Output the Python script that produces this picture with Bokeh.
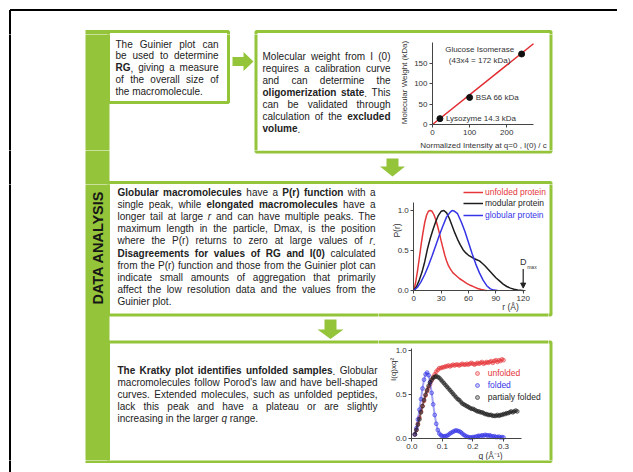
import math
from bokeh.plotting import figure
from bokeh.layouts import row, column
from bokeh.models import (Range1d, FixedTicker, NumeralTickFormatter, Label, Legend,
                          LegendItem, Arrow, NormalHead, ColumnDataSource)
from bokeh.core.properties import value
from bokeh.embed import file_html
from bokeh.resources import INLINE

# ------------------------------------------------------------------ data
section_title = "DATA ANALYSIS"

text_guinier = [
    [("The Guinier plot can", "n")],
    [("be used to determine", "n")],
    [("RG", "b"), (", giving a measure", "n")],
    [("of the overall size of", "n")],
    [("the macromolecule.", "n")],
]
text_mw = [
    [("Molecular weight from I (0)", "n")],
    [("requires a calibration curve", "n")],
    [("and can determine the", "n")],
    [("oligomerization state", "b"), (". This", "n")],
    [("can be validated through", "n")],
    [("calculation of the ", "n"), ("excluded", "b")],
    [("volume", "b"), (".", "n")],
]
text_pr = [
    [("Globular macromolecules", "b"), (" have a ", "n"), ("P(r) function", "b"), (" with a", "n")],
    [("single peak, while ", "n"), ("elongated macromolecules", "b"), (" have a", "n")],
    [("longer tail at large ", "n"), ("r", "i"), (" and can have multiple peaks. The", "n")],
    [("maximum length in the particle, Dmax, is the position", "n")],
    [("where the P(r) returns to zero at large values of ", "n"), ("r", "i"), (".", "n")],
    [("Disagreements for values of RG and I(0)", "b"), (" calculated", "n")],
    [("from the P(r) function and those from the Guinier plot can", "n")],
    [("indicate small amounts of aggregation that primarily", "n")],
    [("affect the low resolution data and the values from the", "n")],
    [("Guinier plot.", "n")],
]
text_kratky = [
    [("The Kratky plot identifies unfolded samples", "b"), (". Globular", "n")],
    [("macromolecules follow Porod's law and have bell-shaped", "n")],
    [("curves. Extended molecules, such as unfolded peptides,", "n")],
    [("lack this peak and have a plateau or are slightly", "n")],
    [("increasing in the larger ", "n"), ("q", "i"), (" range.", "n")],
]

# calibration curve (molecular weight vs normalized I(0))
calib_names = ["Lysozyme 14.3 kDa", "BSA 66 kDa", "Glucose Isomerase"]
calib_note = "(43x4 = 172 kDa)"
calib_intensity = [20, 100, 240]
calib_mw = [14.3, 66, 172]
fit_intensity = [0, 272]
fit_mw = [0, 197]
calib_xticks = [0, 100, 200]
calib_yticks = [0, 50, 100, 150]
calib_xlabel = "Normalized Intensity at q=0 , I(0) / c"
calib_ylabel = "Molecular Weight (kDa)"

# P(r) functions
pr_labels = ["unfolded protein", "modular protein", "globular protein"]
pr_r_unfolded = [0, 2, 4, 6, 8, 10, 12, 14, 16, 18, 20, 22, 24, 26, 28, 30, 32, 34, 36, 38,
                 40, 43, 46, 50, 54, 58, 62, 66, 70, 74, 78, 80]
pr_unfolded = [0, .10, .24, .40, .57, .72, .85, .94, .99, 1.0, .99, .95, .89, .81, .72, .62,
               .53, .44, .37, .31, .27, .22, .19, .15, .12, .09, .065, .045, .025, .012, .003, 0]
pr_r_modular = [0, 3, 6, 9, 12, 15, 18, 21, 24, 27, 30, 33, 36, 39, 42, 45, 48, 51, 54, 57,
                60, 63, 66, 69, 72, 75, 78, 82, 86, 90, 94, 98, 102, 106, 110, 114, 118, 120]
pr_modular = [0, .05, .13, .23, .36, .52, .65, .76, .86, .94, .99, 1.0, .97, .90, .81, .72,
              .64, .57, .51, .47, .44, .42, .40, .385, .37, .34, .31, .26, .21, .16, .12, .08,
              .05, .03, .015, .007, .002, 0]
pr_r_globular = [0, 4, 8, 12, 16, 20, 24, 28, 32, 36, 40, 42, 44, 48, 52, 56, 60, 64, 68, 72,
                 76, 80, 84, 88, 92]
pr_globular = [0, .04, .11, .20, .31, .43, .56, .69, .81, .92, .98, 1.0, .995, .96, .86, .74,
               .60, .46, .33, .22, .13, .06, .02, .005, 0]
dmax = 120
pr_xticks = [0, 30, 60, 90, 120]
pr_yticks = [0, 0.5, 1.0]
pr_xlabel = "r (Å)"
pr_ylabel = "P(r)"

# Kratky plot
kr_labels = ["unfolded", "folded", "partialy folded"]
kr_q = [0.010, 0.015, 0.020, 0.025, 0.030, 0.035, 0.040, 0.045, 0.050, 0.055, 0.060, 0.065,
        0.070, 0.075, 0.080, 0.085, 0.090, 0.095, 0.100, 0.105, 0.110, 0.115, 0.120, 0.125,
        0.130, 0.135, 0.140, 0.145, 0.150, 0.155, 0.160, 0.165, 0.170, 0.175, 0.180, 0.185,
        0.190, 0.195, 0.200, 0.205, 0.210, 0.215, 0.220, 0.225, 0.230, 0.235, 0.240, 0.245,
        0.250, 0.255, 0.260, 0.265, 0.270, 0.275, 0.280, 0.285, 0.290, 0.295, 0.300, 0.305,
        0.310, 0.315, 0.320, 0.325, 0.330, 0.335, 0.340, 0.345]
kr_unfolded = [.05, .10, .17, .24, .31, .37, .43, .49, .54, .58, .62, .66, .70, .73, .76, .78,
               .80, .80, .81,
               .81, .82, .82, .83, .82, .83, .84, .83, .84, .84, .83, .84, .85, .84, .84, .85,
               .84, .85, .86, .85,
               .84, .85, .86, .85, .86, .87, .85, .86, .87, .86, .87, .88, .86, .88, .89, .87,
               .89, .88, .90, .89]
kr_folded = [.05, .12, .22, .33, .45, .57, .67, .73, .75, .72, .64, .52, .39, .27, .17, .10,
             .06, .04, .03,
             .03, .03, .035, .045, .06, .07, .08, .09, .095, .09, .085, .075, .06, .045, .035,
             .025, .02, .015, .015, .02,
             .02, .025, .03, .035, .03, .04, .035, .045, .04, .035, .04, .03, .025, .03, .02,
             .02, .025, .015, .02, .015]
kr_partial = [.05, .10, .16, .22, .30, .37, .44, .50, .55, .60, .64, .67, .69, .70, .71, .70,
              .69, .67, .65,
              .63, .61, .59, .57, .55, .53, .51, .49, .47, .45, .44, .42, .40, .39, .38, .37,
              .36, .35, .34, .34,
              .33, .32, .31, .31, .30, .30, .29, .28, .28, .27, .27, .27, .26, .26, .26, .27,
              .26, .27, .27, .28,
              .28, .29, .29, .30, .31, .30, .31, .32, .31]
kr_xticks = [0, 0.1, 0.2, 0.3]
kr_yticks = [0, 0.5, 1.0]
kr_xlabel = "q (Å⁻¹)"
kr_ylabel = "I(q)xq²"

# ------------------------------------------------------------------ styles
FONT = "Liberation Sans"
GREEN = "#93C43A"
TXT = "#222222"
AX = "#333333"
RED = "#E5363A"
BLUE = "#3535E6"
BLACK = "#1E1E1E"
PAGE_W = 617
PAGE_H = 472

# Arial / Liberation Sans advance widths (per 1000 em)
_LOW_R = [556, 556, 500, 556, 556, 278, 556, 556, 222, 222, 500, 222, 833, 556, 556, 556, 556,
          333, 500, 278, 556, 500, 722, 500, 500, 500]
_UP_R = [667, 667, 722, 722, 667, 611, 778, 722, 278, 500, 667, 556, 833, 722, 778, 667, 778,
         722, 667, 611, 722, 667, 944, 667, 667, 611]
_LOW_B = [556, 611, 556, 611, 556, 333, 611, 611, 278, 278, 556, 278, 889, 611, 611, 611, 611,
          389, 556, 333, 611, 556, 778, 556, 556, 500]
_UP_B = [722, 722, 722, 722, 667, 611, 778, 722, 278, 556, 722, 611, 833, 722, 778, 667, 778,
         722, 667, 611, 722, 667, 944, 667, 667, 611]
_PUNCT_R = {" ": 278, ",": 278, ".": 278, "(": 333, ")": 333, "-": 333, "'": 191, "/": 278,
            ":": 278, "=": 584}
_PUNCT_B = {" ": 278, ",": 278, ".": 278, "(": 333, ")": 333, "-": 333, "'": 238, "/": 278,
            ":": 333, "=": 584}


def char_w(c, st):
    bold = st == "b"
    if "a" <= c <= "z":
        return (_LOW_B if bold else _LOW_R)[ord(c) - 97]
    if "A" <= c <= "Z":
        return (_UP_B if bold else _UP_R)[ord(c) - 65]
    if "0" <= c <= "9":
        return 556
    return (_PUNCT_B if bold else _PUNCT_R).get(c, 556)


def text_w(s, st, size):
    return sum(char_w(c, st) for c in s) * size / 1000.0


def layout_paragraph(lines, x0, x1, y0, dy, size):
    out = []
    for i, line in enumerate(lines):
        chars = [(c, st) for t, st in line for c in t]
        words, cur = [], []
        for c, st in chars:
            if c == " ":
                if cur:
                    words.append(cur)
                    cur = []
            else:
                cur.append((c, st))
        if cur:
            words.append(cur)
        wruns = []
        for w in words:
            rr = []
            for c, st in w:
                if rr and rr[-1][1] == st:
                    rr[-1][0] += c
                else:
                    rr.append([c, st])
            wruns.append(rr)
        widths = [sum(text_w(t, st, size) for t, st in rr) for rr in wruns]
        last = i == len(lines) - 1
        n = len(wruns)
        if not last and n > 1:
            gap = (x1 - x0 - sum(widths)) / (n - 1)
        else:
            gap = text_w(" ", "n", size)
        x = x0
        y = y0 + i * dy
        for rr, w in zip(wruns, widths):
            xx = x
            for t, st in rr:
                tw = text_w(t, st, size)
                out.append((xx, y, t, st, tw))
                xx += tw
            x += w + gap
    return out


RUNS = []
RUNS += layout_paragraph(text_guinier, 115, 218, 43.5, 11.8, 10)
RUNS += layout_paragraph(text_mw, 262, 390, 56, 12, 10)
RUNS += layout_paragraph(text_pr, 117, 375, 192, 12.1, 10)
RUNS += layout_paragraph(text_kratky, 117, 377, 370, 12, 10)


# ------------------------------------------------------------------ background tiles
def bg_tile(x0, x1, y0, y1):
    p = figure(width=x1 - x0, height=y1 - y0, x_range=Range1d(x0, x1),
               y_range=Range1d(y1, y0), toolbar_location=None, output_backend="svg",
               min_border=0, x_axis_location=None, y_axis_location=None,
               outline_line_color=None, background_fill_color="white",
               border_fill_color="white")
    p.grid.visible = False
    # outer black frame (only its top and left edges fall inside the window)
    p.segment(x0=[9.5, 9.5], y0=[9.5, 9.5], x1=[640, 9.5], y1=[9.5, 480],
              line_color="black", line_width=2)
    # green side bar
    p.quad(left=[85], right=[109], top=[29.5], bottom=[462.5], fill_color=GREEN,
           line_color=None)
    # boxes
    p.quad(left=[108, 255.5, 108, 108], right=[228, 550.5, 550.5, 550.5],
           top=[31, 31, 182, 341.5], bottom=[102, 151.5, 314.5, 461],
           fill_alpha=0, line_color=GREEN, line_width=3)
    # arrows
    p.patches(xs=[[232, 243, 243, 253, 243, 243, 232],
                  [386, 398, 398, 404.5, 392, 379.5, 386],
                  [324, 336, 336, 343, 330, 317, 324]],
              ys=[[56.5, 56.5, 51.5, 61, 70.5, 65.5, 65.5],
                  [158, 158, 166, 166, 176, 166, 166],
                  [319, 319, 329, 329, 338.5, 329, 329]],
              fill_color=GREEN, line_color=None)
    if x0 < 97.5 < x1 and y0 < 187 and y1 > 307:
        p.text(x=[97.5], y=[247], text=[section_title], angle=math.pi / 2,
               text_align="center", text_baseline="middle", text_font=value(FONT),
               text_font_size="14.5px", text_font_style="bold", text_color="#161616")
    for st, fstyle in (("n", "normal"), ("b", "bold"), ("i", "italic")):
        sel = [r for r in RUNS if r[3] == st and r[0] < x1 and r[0] + r[4] > x0
               and r[1] - 6 < y1 and r[1] + 6 > y0]
        if not sel:
            continue
        src = ColumnDataSource(dict(x=[r[0] for r in sel], y=[r[1] for r in sel],
                                    text=[r[2] for r in sel]))
        p.text(x="x", y="y", text="text", source=src, text_align="left",
               text_baseline="middle", text_font=value(FONT), text_font_size="10px",
               text_font_style=fstyle, text_color=TXT)
    return p


# ------------------------------------------------------------------ chart helpers
def span_range(lo, hi, v_a, p_a, v_b, p_b):
    k = (p_b - p_a) / (v_b - v_a)
    return Range1d(v_a + (lo - p_a) / k, v_a + (hi - p_a) / k)


def chart_tile(x0, x1, y0, y1, xcal, ycal):
    p = figure(width=x1 - x0, height=y1 - y0,
               x_range=span_range(x0, x1, *xcal), y_range=span_range(y1, y0, *ycal),
               toolbar_location=None, output_backend="svg", min_border=0,
               background_fill_color="white", border_fill_color="white",
               outline_line_color=None)
    p.grid.visible = False
    return p


def style_axes(p, xt, yt, xb, yb, xfmt=None, yfmt=None):
    p.xaxis.ticker = FixedTicker(ticks=xt, minor_ticks=[])
    p.yaxis.ticker = FixedTicker(ticks=yt, minor_ticks=[])
    p.xaxis.fixed_location = 0
    p.yaxis.fixed_location = 0
    p.xaxis.bounds = xb
    p.yaxis.bounds = yb
    if xfmt:
        p.xaxis.formatter = NumeralTickFormatter(format=xfmt)
    if yfmt:
        p.yaxis.formatter = NumeralTickFormatter(format=yfmt)
    for ax in (p.xaxis[0], p.yaxis[0]):
        ax.axis_line_color = "#444444"
        ax.axis_line_width = 1
        ax.major_tick_line_color = "#444444"
        ax.minor_tick_line_color = None
        ax.major_tick_out = 3
        ax.major_tick_in = 0
        ax.major_label_text_font = FONT
        ax.major_label_text_font_size = "8px"
        ax.major_label_text_color = AX
        ax.major_label_standoff = 2


def screen_label(p, x0, y1, px, py, text, size, angle=0.0, color=AX):
    p.add_layout(Label(x=px - x0, y=y1 - py, x_units="screen", y_units="screen", text=text,
                       angle=angle, text_align="center", text_baseline="middle",
                       text_font=FONT, text_font_size=size, text_color=color))


# ------------------------------------------------------------------ chart 1: calibration
C1 = (392, 548, 34, 150)
c1 = chart_tile(*C1, (0, 432, 272, 533), (0, 124, 200, 42))
style_axes(c1, calib_xticks, calib_yticks, (0, 272), (0, 200))
c1.line(fit_intensity, fit_mw, line_color="#E0282D", line_width=1.5)
c1.scatter(calib_intensity, calib_mw, marker="circle", size=6, fill_color="#111111",
           line_color="#111111")
c1.text(x=calib_intensity[:2], y=calib_mw[:2], text=calib_names[:2], x_offset=6,
        text_align="left", text_baseline="middle", text_font=value(FONT),
        text_font_size="8px", text_color=AX)
c1.text(x=[calib_intensity[2], calib_intensity[2]], y=[calib_mw[2], calib_mw[2]],
        text=[calib_names[2], calib_note], x_offset=-42, y_offset=[-4, 7],
        text_align="center", text_baseline="middle", text_font=value(FONT),
        text_font_size="8px", text_color=AX)
screen_label(c1, C1[0], C1[3], 404, 82, calib_ylabel, "8px", angle=math.pi / 2)
screen_label(c1, C1[0], C1[3], 483, 145, calib_xlabel, "8px")

# ------------------------------------------------------------------ chart 2: P(r)
C2 = (378, 548, 184, 312)
c2 = chart_tile(*C2, (0, 413.3, 120, 522.7), (0, 290, 1.0, 210))
style_axes(c2, pr_xticks, pr_yticks, (0, 123), (0, 1.1), yfmt="0.0")
r_un = c2.line(pr_r_unfolded, pr_unfolded, line_color=RED, line_width=1.5)
r_mo = c2.line(pr_r_modular, pr_modular, line_color=BLACK, line_width=1.5)
r_gl = c2.line(pr_r_globular, pr_globular, line_color=BLUE, line_width=1.5)
for rend, lab, col, loc in zip((r_un, r_mo, r_gl), pr_labels, (RED, BLACK, BLUE),
                               ((85, 115.3), (85, 103.7), (85, 92))):
    c2.add_layout(Legend(items=[LegendItem(label=lab, renderers=[rend])], location=loc,
                         label_text_color=col, label_text_font=FONT,
                         label_text_font_size="8.5px", glyph_width=20, glyph_height=10,
                         label_height=10, label_standoff=2, padding=0, margin=0, spacing=0,
                         border_line_color=None, background_fill_alpha=0))
screen_label(c2, C2[0], C2[3], 396.7, 230, pr_ylabel, "8.5px", angle=math.pi / 2)
screen_label(c2, C2[0], C2[3], 510, 306.5, pr_xlabel, "8.5px")
c2.add_layout(Label(x=dmax, y=0.355, text="D", text_align="center", text_baseline="middle",
                    text_font=FONT, text_font_size="9px", text_color=AX))
c2.add_layout(Label(x=dmax, y=0.29, x_offset=4, text="max", text_align="left",
                    text_baseline="middle", text_font=FONT, text_font_size="5px",
                    text_color=AX))
c2.add_layout(Arrow(end=NormalHead(size=5, fill_color="#222222", line_color="#222222"),
                    x_start=dmax, y_start=0.27, x_end=dmax, y_end=0.03,
                    line_color="#222222", line_width=1.2))

# ------------------------------------------------------------------ chart 3: Kratky
C3 = (378, 548, 344, 460)
c3 = chart_tile(*C3, (0, 411.3, 0.3, 503), (0, 438.3, 1.0, 350))
style_axes(c3, kr_xticks, kr_yticks, (0, 0.36), (0, 1.02), xfmt="0.0", yfmt="0.0")
kr_series = ((kr_unfolded, RED), (kr_folded, BLUE), (kr_partial, BLACK))
kr_rends = []
for vals, col in kr_series:
    qs = kr_q[:len(vals)]
    c3.line(qs, vals, line_color=col, line_width=2, line_alpha=0.45)
    kr_rends.append(c3.scatter(qs, vals, marker="circle", size=3.8, fill_color=col,
                               fill_alpha=0.3, line_color=col, line_alpha=0.85,
                               line_width=0.7))
for rend, lab, col, loc in zip(kr_rends, kr_labels, (RED, BLUE, BLACK),
                               ((93.7, 82.3), (93.7, 70), (93.7, 57.7))):
    c3.add_layout(Legend(items=[LegendItem(label=lab, renderers=[rend])], location=loc,
                         label_text_color=col, label_text_font=FONT,
                         label_text_font_size="8.5px", glyph_width=10, glyph_height=10,
                         label_height=10, label_standoff=6, padding=0, margin=0, spacing=0,
                         border_line_color=None, background_fill_alpha=0))
screen_label(c3, C3[0], C3[3], 392.7, 369, kr_ylabel, "8px", angle=math.pi / 2)
screen_label(c3, C3[0], C3[3], 490, 455, kr_xlabel, "8.5px")

# ------------------------------------------------------------------ page layout (tiles)
band0 = bg_tile(0, PAGE_W, 0, 34)
band1 = row(bg_tile(0, 392, 34, 150), c1, bg_tile(548, PAGE_W, 34, 150))
band2 = bg_tile(0, PAGE_W, 150, 184)
band3 = row(bg_tile(0, 378, 184, 460),
            column(c2, bg_tile(378, 548, 312, 344), c3),
            bg_tile(548, PAGE_W, 184, 460))
band4 = bg_tile(0, PAGE_W, 460, PAGE_H)
page = column(band0, band1, band2, band3, band4)

open("out.html", "w").write(file_html(page, INLINE))
